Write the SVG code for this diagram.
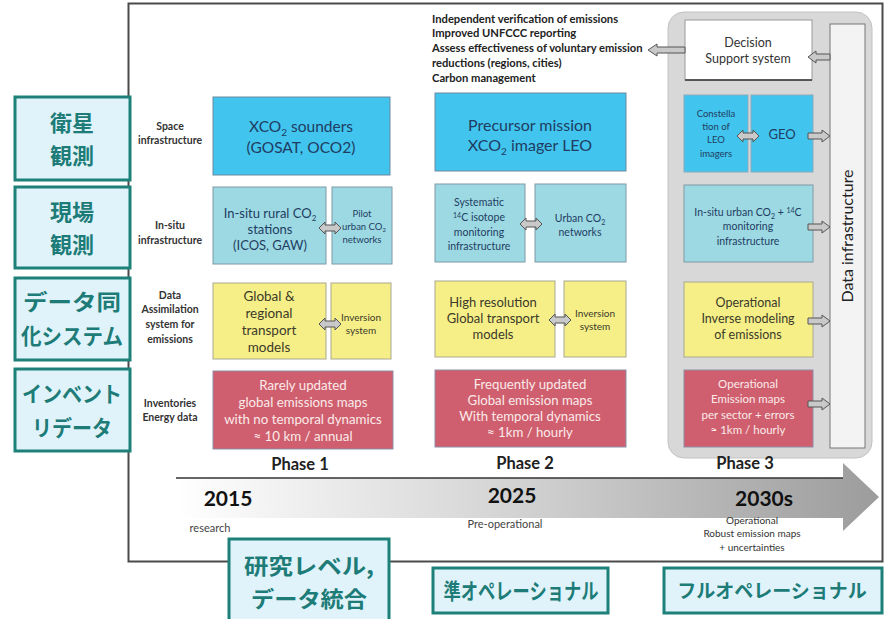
<svg xmlns="http://www.w3.org/2000/svg" width="885" height="619" viewBox="0 0 885 619">
<defs>
<linearGradient id="tl" x1="0" y1="0" x2="1" y2="0">
<stop offset="0" stop-color="#ffffff"/>
<stop offset="0.45" stop-color="#d6d6d6"/>
<stop offset="1" stop-color="#9c9c9c"/>
</linearGradient>
<path id="dbl" d="M0,0 L6,-6 V-3 H16 V-6 L22,0 L16,6 V3 H6 V6 Z"/>
<path id="rgt" d="M0,-3 H14 V-6 L22,0 L14,6 V3 H0 Z"/>
</defs>
<style>
.t{font-family:Lato,"Open Sans","Liberation Sans",sans-serif;text-anchor:middle}
.lab{font-size:10.5px;font-weight:bold;fill:#333}
.blue{fill:#41c4ee;stroke:#6c8aa0;stroke-width:1}
.teal{fill:#9cd9e3;stroke:#7f9aa5;stroke-width:1}
.yel{fill:#f6ef88;stroke:#a8a890;stroke-width:1}
.red{fill:#cf5f6e;stroke:#8d8ea8;stroke-width:1}
.nv{fill:#1f3d62}
.dk{fill:#3b3a28}
.wt{fill:#fbeaea}
.ar{fill:#c9c9c9;stroke:#555;stroke-width:1}
.jp{fill:#e0f3fb;stroke:#1d8079;stroke-width:3}
.jt{font-family:"Noto Sans CJK JP",sans-serif;font-size:22px;font-weight:bold;fill:#1d7c77;text-anchor:middle}
.ph{font-size:16.5px;font-weight:bold;fill:#222}
.yr{font-size:21px;font-weight:bold;fill:#111}
</style>
<rect width="885" height="619" fill="#ffffff"/>
<g id="frame">
<rect x="128.5" y="3.5" width="754" height="558" fill="#ffffff" stroke="#4a4a4a" stroke-width="2"/>
</g>

<g id="phase3-container">
<rect x="668" y="12" width="204" height="446" rx="16" fill="#d8d8d8" stroke="#c2c2c2"/>
</g>
<g id="data-infra">
<rect x="830" y="24" width="35" height="424" fill="#f3f3f3" stroke="#777"/>
<text class="t" transform="translate(853,236) rotate(-90)" style="font-size:16px;fill:#222">Data infrastructure</text>
</g>
<g id="decision">
<rect x="685" y="20" width="127" height="60" fill="#fff" stroke="#999"/>
<line x1="685" y1="80" x2="812" y2="80" stroke="#333" stroke-width="1.5"/>
<text class="t" x="748" y="47" style="font-size:12.5px;fill:#333">Decision</text>
<text class="t" x="748" y="63" style="font-size:12.5px;fill:#333">Support system</text>
</g>
<g id="uses" class="t" style="font-size:11.2px;font-weight:bold;fill:#222;text-anchor:start">
<text x="432" y="23">Independent verification of emissions</text>
<text x="432" y="37">Improved UNFCCC reporting</text>
<text x="432" y="52">Assess effectiveness of voluntary emission</text>
<text x="432" y="67">reductions (regions, cities)</text>
<text x="432" y="82">Carbon management</text>
</g>

<g id="row-labels" class="t lab">
<text x="170" y="130">Space</text>
<text x="170" y="144">infrastructure</text>
<text x="170" y="229">In-situ</text>
<text x="170" y="244">infrastructure</text>
<text x="170" y="299">Data</text>
<text x="170" y="313">Assimilation</text>
<text x="170" y="328">system for</text>
<text x="170" y="343">emissions</text>
<text x="170" y="407">Inventories</text>
<text x="170" y="421">Energy data</text>
</g>

<!-- Phase 1 -->
<g id="p1-space">
<rect class="blue" x="213" y="97" width="177" height="78"/>
<text class="t nv" x="301" y="132" style="font-size:15.5px">XCO<tspan dy="4" style="font-size:10px">2</tspan><tspan dy="-4"> sounders</tspan></text>
<text class="t nv" x="301" y="153" style="font-size:15.5px">(GOSAT, OCO2)</text>
</g>
<g id="p1-rural">
<rect class="teal" x="213" y="187" width="113" height="77"/>
<text class="t nv" x="270" y="218" style="font-size:13px">In-situ rural CO<tspan dy="3" style="font-size:8px">2</tspan></text>
<text class="t nv" x="270" y="234" style="font-size:13px">stations</text>
<text class="t nv" x="270" y="250" style="font-size:13px">(ICOS, GAW)</text>
</g>
<g id="p1-pilot">
<rect class="teal" x="332" y="187" width="60" height="77"/>
<text class="t nv" x="362" y="217" style="font-size:9.5px">Pilot</text>
<text class="t nv" x="364" y="230" style="font-size:9.5px">urban CO<tspan dy="2" style="font-size:6px">2</tspan></text>
<text class="t nv" x="362" y="243" style="font-size:9.5px">networks</text>
</g>
<g id="p1-transport">
<rect class="yel" x="213" y="283" width="113" height="76"/>
<text class="t dk" x="269" y="301" style="font-size:13.5px">Global &amp;</text>
<text class="t dk" x="269" y="318" style="font-size:13.5px">regional</text>
<text class="t dk" x="269" y="335" style="font-size:13.5px">transport</text>
<text class="t dk" x="269" y="352" style="font-size:13.5px">models</text>
</g>
<g id="p1-inversion">
<rect class="yel" x="331" y="283" width="60" height="76"/>
<text class="t dk" x="361" y="321" style="font-size:10px">Inversion</text>
<text class="t dk" x="361" y="334" style="font-size:10px">system</text>
</g>
<g id="p1-inventory">
<rect class="red" x="213" y="371" width="180" height="78"/>
<text class="t wt" x="303" y="390" style="font-size:13.3px">Rarely updated</text>
<text class="t wt" x="303" y="407" style="font-size:13.3px">global emissions maps</text>
<text class="t wt" x="303" y="424" style="font-size:13.3px">with no temporal dynamics</text>
<text class="t wt" x="303" y="441" style="font-size:13.3px">≈ 10 km / annual</text>
</g>
<text class="t ph" x="300" y="470">Phase 1</text>

<!-- Phase 2 -->
<g id="p2-space">
<rect class="blue" x="435" y="93" width="191" height="78"/>
<text class="t nv" x="530" y="131" style="font-size:16px">Precursor mission</text>
<text class="t nv" x="530" y="151" style="font-size:16px">XCO<tspan dy="4" style="font-size:10px">2</tspan><tspan dy="-4"> imager LEO</tspan></text>
</g>
<g id="p2-isotope">
<rect class="teal" x="435" y="184" width="90" height="78"/>
<text class="t nv" x="479" y="206" style="font-size:10.5px">Systematic</text>
<text class="t nv" x="479" y="221" style="font-size:10.5px"><tspan dy="-3" style="font-size:7px">14</tspan><tspan dy="3">C isotope</tspan></text>
<text class="t nv" x="479" y="236" style="font-size:10.5px">monitoring</text>
<text class="t nv" x="479" y="250" style="font-size:10.5px">infrastructure</text>
</g>
<g id="p2-urban">
<rect class="teal" x="535" y="184" width="91" height="78"/>
<text class="t nv" x="580" y="222" style="font-size:10.5px">Urban CO<tspan dy="3" style="font-size:7px">2</tspan></text>
<text class="t nv" x="580" y="236" style="font-size:10.5px">networks</text>
</g>
<g id="p2-transport">
<rect class="yel" x="435" y="281" width="120" height="76"/>
<text class="t dk" x="493" y="307" style="font-size:13px">High resolution</text>
<text class="t dk" x="493" y="323" style="font-size:13px">Global transport</text>
<text class="t dk" x="493" y="339" style="font-size:13px">models</text>
</g>
<g id="p2-inversion">
<rect class="yel" x="564" y="281" width="62" height="76"/>
<text class="t dk" x="595" y="317" style="font-size:10px">Inversion</text>
<text class="t dk" x="595" y="330" style="font-size:10px">system</text>
</g>
<g id="p2-inventory">
<rect class="red" x="435" y="370" width="191" height="77"/>
<text class="t wt" x="530" y="389" style="font-size:13.2px">Frequently updated</text>
<text class="t wt" x="530" y="405" style="font-size:13.2px">Global emission maps</text>
<text class="t wt" x="530" y="421" style="font-size:13.2px">With temporal dynamics</text>
<text class="t wt" x="530" y="437" style="font-size:13.2px">≈ 1km / hourly</text>
</g>
<text class="t ph" x="525" y="469">Phase 2</text>

<!-- Phase 3 -->
<g id="p3-constellation">
<rect class="blue" x="684" y="95" width="64" height="77" style="stroke:#8aaabb"/>
<text class="t nv" x="716" y="117" style="font-size:9.5px">Constella</text>
<text class="t nv" x="716" y="130" style="font-size:9.5px">tion of</text>
<text class="t nv" x="716" y="143" style="font-size:9.5px">LEO</text>
<text class="t nv" x="716" y="157" style="font-size:9.5px">imagers</text>
</g>
<g id="p3-geo">
<rect class="blue" x="751" y="95" width="62" height="77" style="stroke:#8aaabb"/>
<text class="t nv" x="782" y="139" style="font-size:13px">GEO</text>
</g>
<g id="p3-insitu">
<rect class="teal" x="684" y="185" width="129" height="77"/>
<text class="t nv" x="748" y="216" style="font-size:10.5px">In-situ urban CO<tspan dy="3" style="font-size:7px">2</tspan><tspan dy="-3"> + </tspan><tspan dy="-3" style="font-size:7px">14</tspan><tspan dy="3">C</tspan></text>
<text class="t nv" x="748" y="230" style="font-size:10.5px">monitoring</text>
<text class="t nv" x="748" y="245" style="font-size:10.5px">infrastructure</text>
</g>
<g id="p3-inverse">
<rect class="yel" x="684" y="282" width="129" height="75"/>
<text class="t dk" x="748" y="307" style="font-size:12.5px">Operational</text>
<text class="t dk" x="748" y="323" style="font-size:12.5px">Inverse modeling</text>
<text class="t dk" x="748" y="339" style="font-size:12.5px">of emissions</text>
</g>
<g id="p3-maps">
<rect class="red" x="684" y="370" width="129" height="77"/>
<text class="t wt" x="748" y="388" style="font-size:11.5px">Operational</text>
<text class="t wt" x="748" y="403" style="font-size:11.5px">Emission maps</text>
<text class="t wt" x="748" y="419" style="font-size:11.5px">per sector + errors</text>
<text class="t wt" x="748" y="434" style="font-size:11.5px">≈ 1km / hourly</text>
</g>
<text class="t ph" x="745" y="469">Phase 3</text>

<!-- connectors -->
<g id="connectors">
<use href="#dbl" class="ar" x="319" y="228"/>
<use href="#dbl" class="ar" x="319" y="324"/>
<use href="#dbl" class="ar" x="520" y="224"/>
<use href="#dbl" class="ar" x="549" y="320"/>
<use href="#dbl" class="ar" x="737" y="136"/>
<use href="#rgt" class="ar" x="808" y="136"/>
<use href="#rgt" class="ar" x="808" y="227"/>
<use href="#rgt" class="ar" x="808" y="321"/>
<use href="#rgt" class="ar" x="808" y="404"/>
<use href="#rgt" class="ar" transform="translate(830,57) scale(-1,1)"/>
<path class="ar" d="M685,47 H657 V44 L648,50 L657,56 V53 H685 Z"/>
</g>

<!-- timeline -->
<g id="timeline">
<path d="M176,478 H843 V463 L879,497 L843,531 V518 H176 Z" fill="url(#tl)"/>
<line x1="176" y1="478" x2="843" y2="478" stroke="#333" stroke-width="1.5"/>
<text class="t yr" x="228" y="506">2015</text>
<text class="t yr" x="512" y="503">2025</text>
<text class="t yr" x="764" y="506">2030s</text>
<text class="t" x="210" y="532" style="font-size:11px;fill:#444">research</text>
<text class="t" x="505" y="528" style="font-size:11px;fill:#444">Pre-operational</text>
<text class="t" x="752" y="524" style="font-size:10px;fill:#333">Operational</text>
<text class="t" x="752" y="537" style="font-size:10px;fill:#333">Robust emission maps</text>
<text class="t" x="752" y="551" style="font-size:10px;fill:#333">+ uncertainties</text>
</g>

<!-- Japanese labels -->
<g id="jp-sat"><rect class="jp" x="15" y="97" width="115" height="83"/><text class="jt" x="72" y="131">衛星</text><text class="jt" x="72" y="164">観測</text></g>
<g id="jp-insitu"><rect class="jp" x="15" y="187" width="115" height="81"/><text class="jt" x="72" y="220">現場</text><text class="jt" x="72" y="253">観測</text></g>
<g id="jp-assim"><rect class="jp" x="15" y="278" width="115" height="82"/><text class="jt" x="72" y="310" textLength="98" lengthAdjust="spacingAndGlyphs">データ同</text><text class="jt" x="72" y="344" textLength="102" lengthAdjust="spacingAndGlyphs">化システム</text></g>
<g id="jp-inv"><rect class="jp" x="15" y="369" width="115" height="82"/><text class="jt" x="72" y="402" textLength="100" lengthAdjust="spacingAndGlyphs">インベント</text><text class="jt" x="72" y="436" textLength="80" lengthAdjust="spacingAndGlyphs">リデータ</text></g>
<g id="jp-research"><rect class="jp" x="229" y="539" width="160" height="84"/><text class="jt" x="309" y="574" textLength="130" lengthAdjust="spacingAndGlyphs">研究レベル,</text><text class="jt" x="309" y="607" textLength="116" lengthAdjust="spacingAndGlyphs">データ統合</text></g>
<g id="jp-pre"><rect class="jp" x="433" y="568" width="175" height="45"/><text class="jt" x="521" y="599" textLength="155" lengthAdjust="spacingAndGlyphs">準オペレーショナル</text></g>
<g id="jp-full"><rect class="jp" x="664" y="568" width="218" height="45"/><text class="jt" x="772" y="598" style="font-size:19px">フルオペレーショナル</text></g>
</svg>
